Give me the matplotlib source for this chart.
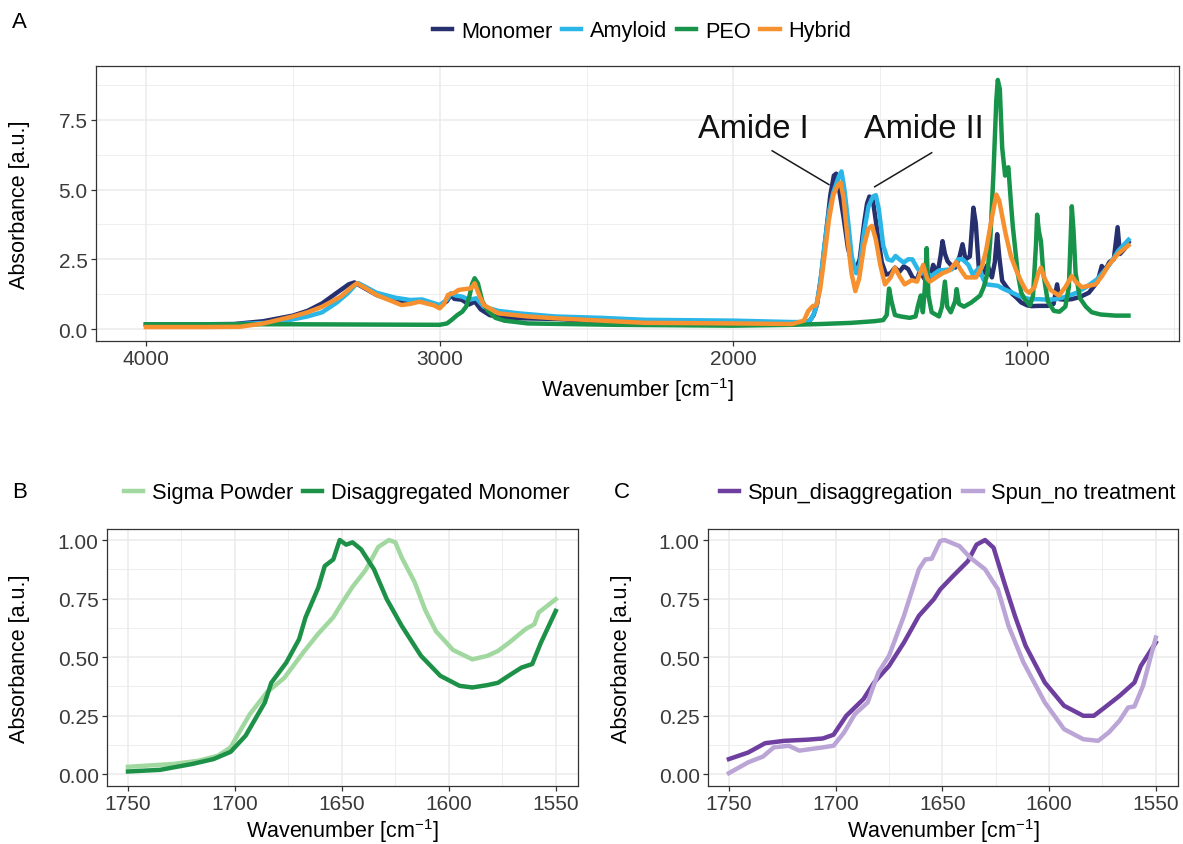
import matplotlib
matplotlib.use("Agg")
import matplotlib.pyplot as plt
from matplotlib.ticker import MultipleLocator, FixedLocator

plt.rcParams['font.family'] = ['Liberation Sans', 'DejaVu Sans']
plt.rcParams['mathtext.fontset'] = 'custom'
plt.rcParams['mathtext.rm'] = 'Liberation Sans'
plt.rcParams['mathtext.it'] = 'Liberation Sans:italic'

# ---------------- Panel A data ----------------
monomer_wn = [4000, 3800, 3700, 3600, 3500, 3450, 3400, 3350, 3310, 3290, 3265, 3215, 3155, 3100, 3060,
              3000, 2975, 2962, 2950, 2925, 2900, 2880, 2860, 2830, 2790, 2700, 2600, 2500, 2400, 2300,
              2100, 1900, 1800, 1760, 1740, 1727, 1715, 1700, 1685, 1670, 1658, 1650, 1640, 1625, 1610,
              1595, 1583, 1570, 1555, 1545, 1537, 1525, 1510, 1495, 1480, 1465, 1450, 1435, 1420, 1405,
              1390, 1375, 1365, 1350, 1330, 1320, 1305, 1295, 1288, 1280, 1271, 1260, 1245, 1230, 1220,
              1210, 1195, 1183, 1175, 1163, 1150, 1135, 1120, 1110, 1102, 1095, 1085, 1070, 1050, 1037,
              1020, 1000, 985, 960, 930, 910, 898, 890, 870, 848, 820, 790, 760, 746, 735, 720, 705,
              692, 684, 670, 655]
monomer_abs = [0.17, 0.17, 0.18, 0.28, 0.48, 0.65, 0.92, 1.30, 1.60, 1.67, 1.52, 1.22, 1.00, 0.97, 1.00,
               0.82, 1.00, 1.22, 1.08, 1.05, 0.88, 0.98, 0.70, 0.50, 0.40, 0.38, 0.36, 0.30, 0.26, 0.24,
               0.24, 0.22, 0.20, 0.22, 0.30, 0.50, 0.90, 2.00, 3.40, 4.80, 5.50, 5.57, 5.00, 4.00, 2.90,
               2.30, 2.14, 2.50, 3.80, 4.50, 4.75, 4.60, 3.50, 2.40, 1.95, 2.00, 2.20, 2.05, 2.25, 2.15,
               1.85, 1.75, 2.10, 1.80, 1.85, 2.30, 2.00, 2.60, 3.15, 2.70, 2.43, 2.30, 2.20, 2.60, 3.04,
               2.50, 2.60, 4.35, 3.80, 1.96, 2.00, 2.30, 1.85, 2.40, 3.40, 2.60, 1.73, 1.50, 1.25, 1.13,
               0.95, 0.85, 0.82, 0.83, 0.83, 0.90, 1.60, 1.07, 1.05, 1.07, 1.15, 1.30, 1.70, 2.26, 2.10, 2.40, 2.50,
               3.65, 2.69, 2.85, 3.10]

amyloid_wn = [4000, 3700, 3550, 3450, 3400, 3350, 3313, 3285, 3276, 3250, 3215, 3150, 3100, 3060, 3000,
              2975, 2962, 2945, 2923, 2900, 2875, 2850, 2800, 2729, 2607, 2450, 2300, 2000, 1800, 1750,
              1735, 1720, 1705, 1690, 1675, 1660, 1650, 1640, 1632, 1622, 1610, 1597, 1582, 1570, 1555,
              1540, 1525, 1515, 1505, 1490, 1475, 1460, 1448, 1435, 1420, 1405, 1391, 1375, 1362, 1340,
              1326, 1300, 1256, 1235, 1220, 1200, 1185, 1163, 1150, 1138, 1100, 1079, 1050, 1020, 990,
              961, 930, 902, 870, 832, 800, 761, 720, 690, 655]
amyloid_abs = [0.17, 0.17, 0.24, 0.45, 0.60, 0.95, 1.28, 1.60, 1.64, 1.50, 1.30, 1.12, 1.04, 1.06, 0.86,
               1.05, 1.28, 1.20, 1.16, 1.05, 1.10, 0.80, 0.65, 0.56, 0.45, 0.40, 0.33, 0.30, 0.25, 0.25,
               0.35, 0.70, 1.60, 3.00, 4.20, 4.90, 5.20, 5.50, 5.65, 5.00, 3.90, 2.60, 2.00, 2.30, 3.50,
               4.40, 4.75, 4.80, 4.30, 3.00, 2.50, 2.45, 2.62, 2.50, 2.38, 2.50, 2.50, 2.20, 2.00, 2.00,
               1.90, 2.10, 2.14, 2.50, 2.50, 2.30, 1.95, 2.20, 1.80, 1.60, 1.55, 1.43, 1.30, 1.15, 1.07,
               1.07, 1.05, 1.07, 1.15, 1.30, 1.50, 1.79, 2.30, 2.80, 3.20]

peo_wn = [4000, 3500, 3000, 2975, 2960, 2940, 2923, 2910, 2899, 2890, 2881, 2870, 2855, 2838, 2810,
          2780, 2700, 2400, 2000, 1800, 1700, 1600, 1520, 1490, 1478, 1470, 1462, 1450, 1430, 1400,
          1380, 1370, 1362, 1355, 1348, 1342, 1336, 1325, 1300, 1290, 1280, 1272, 1260, 1245, 1240,
          1232, 1215, 1190, 1160, 1148, 1135, 1126, 1115, 1105, 1100, 1093, 1085, 1075, 1064, 1055,
          1049, 1032, 1020, 1008, 990, 980, 970, 966, 960, 953, 945, 930, 909, 890, 870, 858, 848,
          842, 835, 820, 800, 780, 750, 700, 655]
peo_abs = [0.17, 0.17, 0.15, 0.20, 0.32, 0.50, 0.62, 0.80, 1.16, 1.60, 1.82, 1.64, 1.00, 0.68, 0.40,
           0.30, 0.20, 0.15, 0.12, 0.15, 0.18, 0.22, 0.28, 0.32, 0.50, 1.45, 1.00, 0.50, 0.45, 0.40,
           0.45, 0.90, 1.20, 0.60, 1.50, 2.90, 1.20, 0.60, 0.45, 0.80, 1.70, 0.80, 0.60, 1.00, 1.43,
           0.90, 0.80, 0.95, 1.20, 1.50, 2.00, 3.10, 5.50, 8.20, 8.93, 8.60, 6.50, 5.50, 5.80, 4.50,
           3.70, 2.00, 1.30, 1.07, 0.85, 1.20, 3.00, 4.10, 3.50, 3.15, 2.00, 1.00, 0.65, 0.62, 0.80, 1.50, 4.40,
           3.50, 2.00, 1.10, 0.80, 0.60, 0.52, 0.48, 0.48]

hybrid_wn = [4000, 3800, 3680, 3600, 3500, 3450, 3400, 3337, 3300, 3282, 3250, 3215, 3130, 3100, 3069,
             3020, 3000, 2985, 2972, 2950, 2936, 2893, 2881, 2865, 2850, 2800, 2700, 2600, 2450, 2300,
             2000, 1800, 1760, 1745, 1730, 1718, 1705, 1690, 1675, 1660, 1645, 1635, 1625, 1612, 1598,
             1585, 1572, 1555, 1540, 1528, 1515, 1500, 1484, 1465, 1450, 1435, 1417, 1393, 1375, 1354,
             1340, 1331, 1310, 1288, 1265, 1242, 1225, 1208, 1174, 1155, 1140, 1120, 1105, 1095, 1073,
             1055, 1037, 1020, 1005, 993, 975, 962, 953, 940, 920, 892, 870, 848, 835, 814, 790, 767,
             745, 722, 690, 655]
hybrid_abs = [0.07, 0.07, 0.08, 0.20, 0.45, 0.60, 0.80, 1.16, 1.50, 1.64, 1.45, 1.22, 0.86, 0.90, 0.98,
              0.85, 0.74, 0.90, 1.22, 1.30, 1.40, 1.46, 1.64, 1.20, 0.86, 0.56, 0.45, 0.38, 0.30, 0.22,
              0.20, 0.18, 0.30, 0.65, 0.82, 0.85, 1.40, 2.60, 3.90, 4.80, 5.15, 5.25, 4.70, 3.30, 2.00,
              1.36, 1.80, 3.00, 3.60, 3.70, 3.20, 2.30, 1.60, 1.85, 2.20, 1.90, 1.60, 1.75, 1.70, 2.30,
              1.80, 1.70, 1.85, 2.00, 2.10, 2.40, 2.10, 1.85, 1.85, 2.20, 2.80, 4.00, 4.82, 4.60, 3.40,
              2.60, 2.10, 1.70, 1.40, 1.30, 1.50, 2.00, 2.20, 1.80, 1.40, 1.20, 1.50, 1.90, 1.70, 1.50, 1.55, 1.60,
              1.90, 2.30, 2.70, 3.00]

# ---------------- Panel B data ----------------
sigma_wn = [1750, 1729, 1717, 1708, 1702, 1698, 1693, 1685, 1677, 1668, 1661, 1654, 1650, 1645, 1639,
            1633, 1628, 1625, 1622, 1616, 1611, 1606, 1598, 1589, 1582, 1577, 1572, 1564, 1560, 1558, 1550]
sigma_abs = [0.031, 0.043, 0.057, 0.078, 0.114, 0.178, 0.256, 0.350, 0.410, 0.520, 0.600, 0.670, 0.730,
             0.800, 0.870, 0.970, 1.000, 0.990, 0.925, 0.820, 0.700, 0.610, 0.530, 0.490, 0.505, 0.526,
             0.560, 0.620, 0.640, 0.690, 0.747]
disagg_wn = [1750, 1735, 1720, 1710, 1702, 1695, 1686, 1683, 1676, 1670, 1667, 1661, 1658, 1654, 1651,
             1648, 1645, 1641, 1635, 1629, 1622, 1613, 1604, 1595, 1589, 1582, 1577, 1572, 1566, 1561,
             1557, 1550]
disagg_abs = [0.011, 0.018, 0.043, 0.064, 0.095, 0.164, 0.306, 0.390, 0.476, 0.576, 0.669, 0.797, 0.889,
              0.917, 1.000, 0.980, 0.990, 0.960, 0.875, 0.747, 0.633, 0.505, 0.420, 0.377, 0.370, 0.380,
              0.390, 0.420, 0.455, 0.470, 0.560, 0.697]

# ---------------- Panel C data ----------------
spun_dis_wn = [1750, 1741, 1733, 1724, 1713, 1706, 1701, 1695, 1687, 1682, 1675, 1668, 1661, 1654, 1651,
               1645, 1638, 1634, 1630, 1626, 1621, 1616, 1611, 1602, 1593, 1584, 1579, 1574, 1567, 1560,
               1557, 1550]
spun_dis_abs = [0.064, 0.092, 0.132, 0.142, 0.147, 0.152, 0.168, 0.249, 0.320, 0.391, 0.462, 0.562, 0.676,
                0.747, 0.789, 0.846, 0.910, 0.980, 1.000, 0.967, 0.818, 0.676, 0.548, 0.391, 0.292, 0.249,
                0.249, 0.284, 0.334, 0.391, 0.462, 0.562]
spun_no_wn = [1750, 1741, 1734, 1729, 1722, 1717, 1706, 1701, 1696, 1691, 1685, 1680, 1675, 1668, 1661,
              1658, 1655, 1651, 1649, 1642, 1637, 1630, 1624, 1619, 1612, 1602, 1593, 1584, 1577, 1572,
              1567, 1563, 1560, 1556, 1550]
spun_no_abs = [0.004, 0.050, 0.075, 0.114, 0.121, 0.100, 0.114, 0.121, 0.178, 0.256, 0.306, 0.434, 0.505,
               0.676, 0.875, 0.917, 0.920, 0.996, 1.000, 0.974, 0.925, 0.875, 0.790, 0.633, 0.477, 0.306,
               0.192, 0.149, 0.142, 0.178, 0.228, 0.284, 0.289, 0.377, 0.583]

# ---------------- styling ----------------
W, H = 1183, 845
fig = plt.figure(figsize=(W / 100, H / 100), dpi=100)

def ax_px(l, r, t, b):
    return fig.add_axes([l / W, 1 - b / H, (r - l) / W, (b - t) / H])

FS_TICK = 15
FS_TITLE = 15.5
FS_LEG = 15.7
GRID = '#EBEBEB'
BORDER = '#333333'
TICKC = '#3A3A3A'
LW = 3.2

def style(ax):
    for s in ax.spines.values():
        s.set_color(BORDER)
        s.set_linewidth(0.9)
    ax.grid(which='major', color=GRID, lw=1.1, zorder=0)
    ax.grid(which='minor', color=GRID, lw=0.6, zorder=0)
    ax.set_axisbelow(True)
    ax.tick_params(which='major', length=3.5, width=0.9, color=BORDER, labelsize=FS_TICK,
                   labelcolor=TICKC, pad=2.5)
    ax.tick_params(which='minor', length=0)

xlabel = r'Wavenumber [cm$^{-1}$]'
ylabel = 'Absorbance [a.u.]'

def labels(ax, l, r, t, b, xlab_y, ylab_x):
    ax.set_xlabel(xlabel, fontsize=FS_TITLE)
    ax.set_ylabel(ylabel, fontsize=FS_TITLE)
    ax.xaxis.set_label_coords(0.5, (b - xlab_y) / (b - t))
    ax.xaxis.label.set_va('center')
    ax.yaxis.set_label_coords((ylab_x - l) / (r - l), 0.5)
    ax.yaxis.label.set_va('center')

# Panel A
A_box = (96, 1179, 67, 342)
axA = ax_px(*A_box)
c_mon, c_amy, c_peo, c_hyb = '#26306F', '#2BB6E8', '#17944A', '#F7902E'
lA = []
lA += axA.plot(monomer_wn, monomer_abs, color=c_mon, lw=LW, label='Monomer', solid_joinstyle='round')
lA += axA.plot(amyloid_wn, amyloid_abs, color=c_amy, lw=LW, label='Amyloid', solid_joinstyle='round')
lA += axA.plot(peo_wn, peo_abs, color=c_peo, lw=LW, label='PEO', solid_joinstyle='round')
lA += axA.plot(hybrid_wn, hybrid_abs, color=c_hyb, lw=LW, label='Hybrid', solid_joinstyle='round')
axA.set_xlim(4170, 483)
axA.set_ylim(-0.43, 9.43)
axA.xaxis.set_major_locator(FixedLocator([4000, 3000, 2000, 1000]))
axA.xaxis.set_minor_locator(FixedLocator([3500, 2500, 1500, 500]))
axA.yaxis.set_major_locator(FixedLocator([0, 2.5, 5.0, 7.5]))
axA.yaxis.set_minor_locator(FixedLocator([1.25, 3.75, 6.25, 8.75]))
axA.set_yticklabels(['0.0', '2.5', '5.0', '7.5'])
style(axA)
labels(axA, *A_box, xlab_y=390, ylab_x=20)
axA.text(1932, 7.2, 'Amide I', fontsize=23.5, ha='center', va='center', color='#111111')
axA.text(1352, 7.2, 'Amide II', fontsize=23.5, ha='center', va='center', color='#111111')
axA.plot([1868, 1675], [6.39, 5.18], color='#1A1A1A', lw=1.1)
axA.plot([1325, 1519], [6.32, 5.10], color='#1A1A1A', lw=1.1)

# Panel B
B_box = (107, 578, 530, 787)
axB = ax_px(*B_box)
c_sig, c_dis = '#A1D8A0', '#1E9148'
lB = []
lB += axB.plot(sigma_wn, sigma_abs, color=c_sig, lw=LW, label='Sigma Powder', solid_joinstyle='round')
lB += axB.plot(disagg_wn, disagg_abs, color=c_dis, lw=LW, label='Disaggregated Monomer', solid_joinstyle='round')

# Panel C
C_box = (708, 1178, 530, 787)
axC = ax_px(*C_box)
c_sd, c_sn = '#6F3FA0', '#BBA5D6'
lC = []
lC += axC.plot(spun_dis_wn, spun_dis_abs, color=c_sd, lw=LW, label='Spun_disaggregation', solid_joinstyle='round')
lC += axC.plot(spun_no_wn, spun_no_abs, color=c_sn, lw=LW, label='Spun_no treatment', solid_joinstyle='round')

for ax, box, yx in ((axB, B_box, 20), (axC, C_box, 622)):
    ax.set_xlim(1759.8, 1539.6)
    ax.set_ylim(-0.051, 1.047)
    ax.xaxis.set_major_locator(MultipleLocator(50))
    ax.xaxis.set_minor_locator(FixedLocator([1775, 1725, 1675, 1625, 1575, 1525]))
    ax.yaxis.set_major_locator(FixedLocator([0, 0.25, 0.5, 0.75, 1.0]))
    ax.yaxis.set_minor_locator(FixedLocator([0.125, 0.375, 0.625, 0.875]))
    ax.set_yticklabels(['0.00', '0.25', '0.50', '0.75', '1.00'])
    style(ax)
    labels(ax, *box, xlab_y=831, ylab_x=yx)

# Legends
leg_kw = dict(loc='center', frameon=False, fontsize=FS_LEG, handlelength=0.88,
              handletextpad=0.4, columnspacing=0.45, borderaxespad=0, borderpad=0)
fig.legend(handles=lA, ncol=4, bbox_to_anchor=(642 / W, 1 - 32 / H), **leg_kw)
fig.legend(handles=lB, ncol=2, bbox_to_anchor=(347 / W, 1 - 494 / H), **leg_kw)
fig.legend(handles=lC, ncol=2, bbox_to_anchor=(948 / W, 1 - 494 / H), **leg_kw)

# Panel tags
fig.text(12 / W, 1 - 23 / H, 'A', fontsize=16, ha='left', va='center')
fig.text(12 / W, 1 - 493 / H, 'B', fontsize=16, ha='left', va='center')
fig.text(614 / W, 1 - 493 / H, 'C', fontsize=16, ha='left', va='center')

fig.savefig('out.png', dpi=100)
